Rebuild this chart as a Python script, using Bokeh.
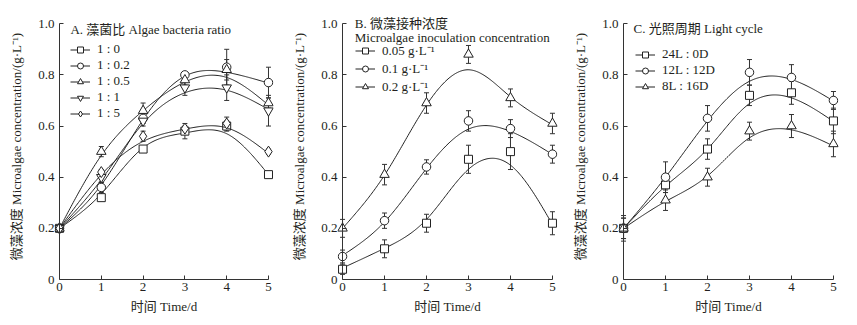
import numpy as np
from bokeh.plotting import figure
from bokeh.layouts import row
from bokeh.models import (Range1d, Legend, LegendItem, Label, FixedTicker,
                          PrintfTickFormatter, LinearAxis)
from bokeh.embed import file_html
from bokeh.resources import INLINE

# ---------------- data ----------------
days = [0, 1, 2, 3, 4, 5]

# Panel A: algae:bacteria ratio
a_labels = ["1 : 0", "1 : 0.2", "1 : 0.5", "1 : 1", "1 : 5"]
a_1_0 = [0.20, 0.32, 0.51, 0.58, 0.60, 0.41]
a_1_02 = [0.20, 0.36, 0.63, 0.80, 0.83, 0.77]
a_1_05 = [0.20, 0.50, 0.66, 0.78, 0.82, 0.69]
a_1_1 = [0.20, 0.40, 0.62, 0.75, 0.75, 0.66]
a_1_5 = [0.20, 0.42, 0.56, 0.59, 0.61, 0.50]
a_err_1_0 = [0.01, 0.01, 0.01, 0.03, 0.02, 0.01]
a_err_1_02 = [0.01, 0.02, 0.02, 0.01, 0.07, 0.06]
a_err_1_05 = [0.01, 0.02, 0.03, 0.02, 0.04, 0.02]
a_err_1_1 = [0.01, 0.02, 0.02, 0.03, 0.05, 0.06]
a_err_1_5 = [0.01, 0.01, 0.02, 0.01, 0.025, 0.01]
# fitted curves (values of the drawn fit line at each day)
a_fit_1_0 = [0.20, 0.335, 0.515, 0.573, 0.570, 0.41]
a_fit_1_02 = [0.20, 0.37, 0.625, 0.795, 0.810, 0.768]
a_fit_1_05 = [0.20, 0.485, 0.66, 0.772, 0.790, 0.682]
a_fit_1_1 = [0.20, 0.39, 0.61, 0.730, 0.740, 0.665]
a_fit_1_5 = [0.20, 0.41, 0.54, 0.588, 0.593, 0.493]

# Panel B: inoculation concentration
b_labels = ["0.05 g·L⁻¹", "0.1 g·L⁻¹", "0.2 g·L⁻¹"]
b_005 = [0.04, 0.12, 0.22, 0.47, 0.50, 0.22]
b_01 = [0.09, 0.23, 0.44, 0.62, 0.59, 0.49]
b_02 = [0.20, 0.41, 0.69, 0.88, 0.71, 0.61]
b_err_005 = [0.02, 0.035, 0.035, 0.055, 0.07, 0.045]
b_err_01 = [0.025, 0.03, 0.028, 0.04, 0.035, 0.035]
b_err_02 = [0.035, 0.04, 0.04, 0.035, 0.035, 0.04]
b_fit_005 = [0.045, 0.122, 0.235, 0.431, 0.447, 0.215]
b_fit_01 = [0.094, 0.225, 0.434, 0.588, 0.579, 0.489]
b_fit_02 = [0.20, 0.408, 0.682, 0.820, 0.714, 0.605]

# Panel C: light cycle
c_labels = ["24L : 0D", "12L : 12D", "8L : 16D"]
c_24 = [0.20, 0.37, 0.51, 0.72, 0.73, 0.62]
c_12 = [0.20, 0.40, 0.63, 0.81, 0.79, 0.70]
c_8 = [0.20, 0.31, 0.40, 0.58, 0.60, 0.53]
c_err_24 = [0.05, 0.03, 0.04, 0.04, 0.045, 0.05]
c_err_12 = [0.04, 0.06, 0.05, 0.05, 0.05, 0.035]
c_err_8 = [0.04, 0.04, 0.035, 0.035, 0.045, 0.05]
c_fit_24 = [0.20, 0.365, 0.51, 0.688, 0.710, 0.618]
c_fit_12 = [0.20, 0.40, 0.62, 0.775, 0.782, 0.698]
c_fit_8 = [0.20, 0.305, 0.405, 0.554, 0.585, 0.522]

y_ticks = [0, 0.2, 0.4, 0.6, 0.8, 1.0]

FONT = "'Liberation Serif', 'Noto Sans CJK SC', serif"
INK = "#231f20"
AXC = "#333333"


def smooth(xk, yk, n=200):
    """Natural cubic spline through the read fit-line values (rendering only)."""
    x = np.asarray(xk, float)
    y = np.asarray(yk, float)
    m = len(x)
    h = np.diff(x)
    A = np.zeros((m, m))
    r = np.zeros(m)
    A[0, 0] = 1
    A[-1, -1] = 1
    for i in range(1, m - 1):
        A[i, i - 1] = h[i - 1]
        A[i, i] = 2 * (h[i - 1] + h[i])
        A[i, i + 1] = h[i]
        r[i] = 6 * ((y[i + 1] - y[i]) / h[i] - (y[i] - y[i - 1]) / h[i - 1])
    M = np.linalg.solve(A, r)
    xs = np.linspace(x[0], x[-1], n)
    idx = np.clip(np.searchsorted(x, xs) - 1, 0, m - 2)
    x0 = x[idx]
    x1 = x[idx + 1]
    hh = x1 - x0
    a = (x1 - xs) / hh
    b = (xs - x0) / hh
    ys = a * y[idx] + b * y[idx + 1] + ((a ** 3 - a) * M[idx] + (b ** 3 - b) * M[idx + 1]) * hh ** 2 / 6
    return xs, ys


MARK_SIZE = {"square": 8, "circle": 8.5, "triangle": 9.5, "inverted_triangle": 9.5, "diamond": 11}


def style_text(ax):
    ax.major_label_text_font = FONT
    ax.major_label_text_font_size = "13px"
    ax.major_label_text_color = INK
    ax.axis_label_text_font = FONT
    ax.axis_label_text_font_size = "13px"
    ax.axis_label_text_font_style = "normal"
    ax.axis_label_text_color = INK


def panel(series, labels, markers, titles, legend_loc, width, left, right, top, fh):
    p = figure(width=width, height=325, x_range=Range1d(-0.12, 5.12), y_range=Range1d(0, 1.04),
               output_backend="svg", toolbar_location=None,
               min_border_left=left, min_border_right=right,
               min_border_top=top, min_border_bottom=325 - top - fh)
    p.grid.visible = False
    p.outline_line_color = None
    p.background_fill_color = "white"
    p.border_fill_color = "white"

    xa = p.xaxis[0]
    xa.ticker = FixedTicker(ticks=days)
    xa.bounds = (0, 5)
    xa.axis_label = "时间 Time/d"
    xa.major_tick_in = 4
    xa.major_tick_out = 0
    xa.minor_tick_line_color = None
    xa.axis_line_color = AXC
    xa.major_tick_line_color = AXC
    xa.major_label_standoff = 3
    xa.axis_label_standoff = 5
    style_text(xa)

    # labels-only y axis at the frame edge
    ya = p.yaxis[0]
    ya.ticker = FixedTicker(ticks=y_ticks)
    ya.formatter = PrintfTickFormatter(format="%.1f")
    ya.major_label_overrides = {0: "0"}
    ya.axis_label = "微藻浓度 Microalgae concentration/(g·L⁻¹)"
    ya.axis_line_color = None
    ya.major_tick_line_color = None
    ya.minor_tick_line_color = None
    ya.major_tick_in = 0
    ya.major_tick_out = 0
    ya.major_label_standoff = 0
    ya.axis_label_standoff = 11
    style_text(ya)

    # line + ticks y axis placed at day 0
    yl = LinearAxis(ticker=FixedTicker(ticks=y_ticks), bounds=(0, 1), fixed_location=0,
                    major_tick_in=4, major_tick_out=0, minor_tick_line_color=None,
                    axis_line_color=AXC, major_tick_line_color=AXC,
                    major_label_text_font_size="0px", major_label_text_alpha=0)
    p.add_layout(yl, "left")

    for (vals, errs, fit), label, mk in zip(series, labels, markers):
        v = np.asarray(vals)
        e = np.asarray(errs)
        p.segment(x0=days, y0=v - e, x1=days, y1=v + e, line_color=AXC, line_width=1)
        p.scatter(x=days, y=v + e, marker="dash", size=5, line_color=AXC, line_width=1)
        p.scatter(x=days, y=v - e, marker="dash", size=5, line_color=AXC, line_width=1)
    items = []
    for (vals, errs, fit), label, mk in zip(series, labels, markers):
        xs, ys = smooth(days, fit)
        lr = p.line(xs, ys, line_color="#222222", line_width=1)
        mr = p.scatter(x=days, y=vals, marker=mk, size=MARK_SIZE[mk], fill_color="white",
                       line_color="#222222", line_width=1)
        items.append(LegendItem(label=label, renderers=[lr, mr]))

    leg = Legend(items=items, location=legend_loc, glyph_width=20, glyph_height=15,
                 label_height=15, spacing=0, padding=0, margin=0, label_standoff=7,
                 border_line_color=None, background_fill_alpha=0,
                 label_text_font=FONT, label_text_font_size="13px", label_text_color=INK)
    p.add_layout(leg)

    for (tx, ty, txt) in titles:
        p.add_layout(Label(x=tx, y=ty, text=txt, text_font=FONT, text_font_size="13px",
                           text_color=INK, text_baseline="middle", text_align="left"))
    return p


pA = panel([(a_1_0, a_err_1_0, a_fit_1_0), (a_1_02, a_err_1_02, a_fit_1_02),
            (a_1_05, a_err_1_05, a_fit_1_05), (a_1_1, a_err_1_1, a_fit_1_1),
            (a_1_5, a_err_1_5, a_fit_1_5)],
           a_labels, ["square", "circle", "triangle", "inverted_triangle", "diamond"],
           [(0.26, 0.977, "A. 藻菌比 Algae bacteria ratio")],
           (16, 158), 285, 54, 12, 9, 270)

pB = panel([(b_005, b_err_005, b_fit_005), (b_01, b_err_01, b_fit_01), (b_02, b_err_02, b_fit_02)],
           b_labels, ["square", "circle", "triangle"],
           [(0.29, 1.0, "B. 微藻接种浓度"), (0.29, 0.946, "Microalgae inoculation concentration")],
           (18, 184), 283, 52, 11, 13, 269)

pC = panel([(c_24, c_err_24, c_fit_24), (c_12, c_err_12, c_fit_12), (c_8, c_err_8, c_fit_8)],
           c_labels, ["square", "circle", "triangle"],
           [(0.24, 0.983, "C. 光照周期 Light cycle")],
           (17, 185), 289, 50, 19, 11, 270)

layout = row(pA, pB, pC, spacing=0)
open("out.html", "w").write(file_html(layout, INLINE))
